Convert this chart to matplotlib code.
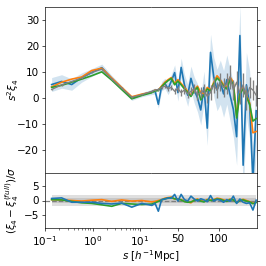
import numpy as np
import matplotlib
matplotlib.use("Agg")
import matplotlib.pyplot as plt

plt.rcParams["font.size"] = 12.5
plt.rcParams["lines.linewidth"] = 2.0

# bin centres: log part and linear part
s_log = [0.138, 0.224, 0.365, 0.59, 0.96, 1.57, 2.54, 4.1, 6.7, 10.9]
s_lin = [18, 22, 26, 30, 34, 38, 42, 46, 50, 54, 58, 62, 66, 70, 74, 78, 82,
         86, 90, 94, 98, 102, 106, 110, 114, 118, 122, 126, 130, 134, 138, 142, 146]

# s^2 xi_4 for each run
blue = [5.1, 6.3, 5.1, 7.8, 9.7, 11.6, 7.5, 3.8, -0.2, 1.2,
        2.3, 2.6, -2.5, 4.5, 5.5, 3.5, 6.5, 9.7, 2.0, 11.7, 5.0, 1.0, 7.5, 3.0,
        0.0, -4.7, 4.0, -11.7, 17.5, 8.0, 3.0, 6.0, 1.5, 7.0, 1.0, -4.5, -15.0,
        24.0, -26.0, 5.0, -2.7, -32.0, -5.0]
blue_err = [2.7, 2.6, 2.2, 1.8, 1.5, 1.4, 1.1, 0.9, 0.8, 0.8,
            1.0, 1.2, 1.5, 1.8, 2.0, 2.3, 2.6, 3.0, 3.3, 3.6, 4.0, 4.3, 4.7, 5.0,
            5.4, 5.8, 6.2, 6.6, 7.0, 7.5, 8.0, 8.5, 9.0, 9.5, 10.0, 10.5, 11.0,
            11.5, 12.0, 12.5, 13.0, 13.5, 14.0]
orange = [4.2, 6.0, 7.2, 8.0, 10.5, 11.4, 7.6, 4.0, 0.4, 1.4,
          2.2, 3.0, 3.0, 4.5, 6.0, 7.0, 7.8, 5.5, 7.0, 5.5, 4.0, 2.5, 1.0, 3.0,
          4.5, 2.0, 1.5, 4.0, 3.0, 6.0, 8.5, 7.0, 5.0, 4.0, 8.0, 6.0, -7.0,
          2.0, 4.0, 1.0, -2.0, -13.5, -13.0]
green = [4.0, 4.8, 6.0, 7.2, 8.5, 10.0, 6.8, 3.2, -0.4, 0.9,
         2.0, 2.6, 2.8, 4.2, 5.6, 6.6, 7.5, 5.0, 6.4, 5.0, 3.4, 2.0, 0.5, 2.6,
         4.0, -0.8, 1.0, 3.4, 2.6, 5.4, 7.6, 6.4, 4.4, 3.4, 7.0, 5.2, -7.8,
         1.4, 3.4, 0.4, -2.6, -9.0, -8.0]
gray = [3.2, 5.0, 6.3, 7.6, 9.8, 11.0, 7.2, 3.7, 0.2, 1.2,
        2.5, 3.0, 3.2, 4.0, 4.5, 3.5, 4.0, 2.5, 3.5, 2.0, 3.0, 1.5, 2.5, 3.5,
        1.0, 2.0, 3.0, 0.5, 2.0, 5.0, 3.0, 6.0, 4.0, 5.5, 8.0, 3.0, 6.0,
        2.0, 5.0, 0.0, 4.0, 3.0, 1.0]
gray_err = [0.3, 0.3, 0.3, 0.3, 0.3, 0.3, 0.3, 0.3, 0.3, 0.3,
            0.4, 0.5, 0.6, 0.7, 0.8, 0.9, 1.0, 1.1, 1.2, 1.3, 1.4, 1.5, 1.6, 1.8,
            2.0, 2.2, 2.4, 2.6, 2.8, 3.0, 3.2, 3.4, 3.6, 4.0, 4.5, 4.0, 4.2,
            4.4, 4.6, 4.8, 4.0, 4.0, 4.0]

# (xi_4 - xi_4^full)/sigma
blue_res = [0.7, 0.9, -0.6, -0.6, -0.6, -1.0, -1.2, -0.9, -2.3, -1.0,
            -1.7, -1.0, -3.7, 0.3, 0.5, 0.9, 0.8, 2.1, -0.2, 2.1, 0.3, -0.2, 1.5,
            0.5, -0.2, 0.6, 0.2, -0.4, 1.7, -0.2, 0.4, 0.1, -0.6, 0.3, -0.3, 1.5,
            -1.0, 0.5, -0.6, -1.0, -0.8, -3.3, 0.1]
orange_res = [0.3, 0.2, 0.0, -0.2, 0.1, 0.3, -0.3, 0.2, -0.2, 0.0,
              -0.5, -0.3, 0.0, 0.3, 0.8, 1.0, 1.2, 0.5, 0.6, 0.3, -0.2, -0.5,
              -0.8, 0.2, 0.5, 0.0, -0.3, 0.4, 0.2, 0.3, 0.8, 0.6, 0.2, -0.1, 0.5,
              0.3, -0.6, 0.1, 0.4, 0.0, -0.4, -1.0, -0.6]
green_res = [0.3, 0.2, -0.3, -0.8, -1.0, -1.5, -2.0, -1.0, -1.2, -1.4,
             -1.2, -0.8, -0.3, 0.2, 0.6, 0.8, 1.0, 0.6, 0.4, 0.2, -0.4, -0.6,
             -0.5, 0.0, 0.3, -0.2, -0.5, 0.2, 0.0, 0.2, 0.5, 0.4, 0.0, -0.3, 0.3,
             0.2, -0.8, 0.0, 0.2, -0.2, -0.5, -1.1, -0.7]

s = np.array(s_log + s_lin)
blue, blue_err = np.array(blue), np.array(blue_err)

fig = plt.figure(figsize=(266 / 60, 266 / 60), dpi=60)
x0, xm, x1 = 45 / 266, 151 / 266, 257 / 266
ytop, ymid, ybot = 1 - 7 / 266, 1 - 173 / 266, 1 - 228 / 266
ax_tl = fig.add_axes([x0, ymid, xm - x0, ytop - ymid])
ax_tr = fig.add_axes([xm, ymid, x1 - xm, ytop - ymid])
ax_bl = fig.add_axes([x0, ybot, xm - x0, ymid - ybot])
ax_br = fig.add_axes([xm, ybot, x1 - xm, ymid - ybot])

for ax in (ax_tl, ax_tr):
    ax.fill_between(s, blue - blue_err, blue + blue_err, color="C0", alpha=0.2, lw=0)
    ax.plot(s, blue, color="C0")
    ax.plot(s, orange, color="C1")
    ax.plot(s, green, color="C2")
    ax.errorbar(s, gray, yerr=gray_err, color="gray", lw=1.6)
    ax.set_ylim(-29, 35)
    ax.tick_params(bottom=False, labelbottom=False)

for ax in (ax_bl, ax_br):
    ax.fill_between(s, -2, 2, color="gray", alpha=0.25, lw=0)
    ax.fill_between(s, -1, 1, color="gray", alpha=0.25, lw=0)
    ax.axhline(0, color="gray", ls="--", lw=1.5)
    ax.plot(s, orange_res, color="C1")
    ax.plot(s, green_res, color="C2")
    ax.plot(s, blue_res, color="C0")
    ax.set_ylim(-9.5, 9.5)

for ax in (ax_tl, ax_bl):
    ax.set_xscale("log")
    ax.set_xlim(0.1, 17)
    ax.spines["right"].set_visible(False)
for ax in (ax_tr, ax_br):
    ax.set_xlim(17, 147)
    ax.spines["left"].set_visible(False)
    ax.yaxis.tick_right()
    ax.tick_params(labelright=False)

ax_tl.set_yticks([-20, -10, 0, 10, 20, 30])
ax_tr.set_yticks([-20, -10, 0, 10, 20, 30])
ax_bl.set_yticks([-5, 0, 5])
ax_br.set_yticks([-5, 0, 5])
ax_br.set_xticks([50, 100])

ax_tl.set_ylabel(r"$s^2\xi_4$")
ax_bl.set_ylabel(r"$(\xi_4-\xi_4^{(full)})/\sigma$")
ax_tl.yaxis.set_label_coords(-0.225, 0.5)
ax_bl.yaxis.set_label_coords(-0.225, 0.5)
fig.text((x0 + x1) / 2, 0.008, r"$s\ [h^{-1}\mathrm{Mpc}]$", ha="center", va="bottom")

plt.savefig("out.png", dpi=60)
